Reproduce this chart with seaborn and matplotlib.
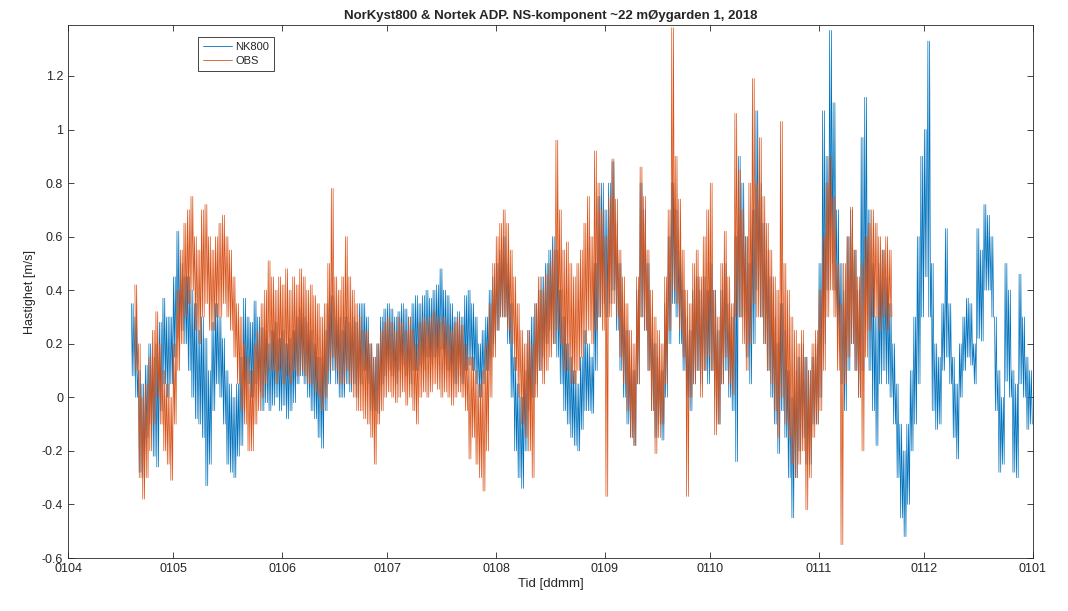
import matplotlib
matplotlib.use("Agg")
import matplotlib.pyplot as plt
import matplotlib.dates as mdates
import matplotlib.ticker as mticker
from matplotlib.lines import Line2D
import seaborn as sns
import pandas as pd

# daily high / low of the tidal signal (m/s)
# day 0 = 1 April 2018
nk_start = 18
nk_hi = [
    0.35, 0.30, 0.10, 0.05, 0.12, 0.20, 0.15, 0.20, 0.28, 0.37,
    0.30, 0.30, 0.45, 0.62, 0.50, 0.45, 0.45, 0.40, 0.35, 0.25,
    0.30, 0.22, 0.10, 0.28, 0.35, 0.30, 0.22, 0.10, 0.05, 0.00,
    0.05, 0.15, 0.37, 0.30, 0.28, 0.36, 0.30, 0.26, 0.25, 0.20,
    0.25, 0.28, 0.22, 0.25, 0.20, 0.22, 0.25, 0.30, 0.33, 0.30,
    0.28, 0.25, 0.20, 0.15, 0.15, 0.25, 0.35, 0.38, 0.30, 0.30,
    0.25, 0.30, 0.28, 0.30, 0.28, 0.35, 0.35, 0.30, 0.20, 0.15,
    0.20, 0.30, 0.33, 0.35, 0.33, 0.30, 0.32, 0.35, 0.33, 0.30,
    0.35, 0.38, 0.35, 0.38, 0.40, 0.37, 0.40, 0.42, 0.48, 0.40,
    0.38, 0.35, 0.30, 0.32, 0.30, 0.38, 0.40, 0.35, 0.30, 0.20,
    0.25, 0.30, 0.40, 0.45, 0.50, 0.55, 0.60, 0.50, 0.35, 0.15,
    0.05, 0.00, 0.10, 0.25, 0.30, 0.35, 0.40, 0.45, 0.50, 0.55,
    0.60, 0.55, 0.40, 0.30, 0.20, 0.15, 0.10, 0.05, 0.15, 0.25,
    0.20, 0.15, 0.50, 0.75, 0.80, 0.70, 0.80, 0.88, 0.65, 0.50,
    0.35, 0.25, 0.15, 0.10, 0.40, 0.80, 0.70, 0.50, 0.30, 0.20,
    0.15, 0.10, 0.35, 0.60, 0.80, 0.70, 0.55, 0.40, 0.30, 0.25,
    0.40, 0.45, 0.40, 0.45, 0.40, 0.50, 0.40, 0.25, 0.40, 0.50,
    0.35, 0.30, 0.60, 0.90, 0.80, 0.60, 0.50, 0.70, 1.07, 0.80,
    0.65, 0.55, 0.45, 0.30, 0.20, 0.35, 0.25, 0.10, 0.00, 0.10,
    0.15, 0.20, 0.15, 0.10, 0.15, 0.20, 0.50, 1.07, 0.90, 1.37,
    1.10, 0.70, 0.50, 0.40, 0.60, 0.70, 0.55, 0.40, 0.97, 1.12,
    0.70, 0.50, 0.30, 0.50, 0.55, 0.45, 0.35, 0.20, 0.05, -0.10,
    -0.20, -0.10, 0.10, 0.30, 0.60, 0.90, 1.00, 1.33, 0.50, 0.20,
    0.15, 0.35, 0.63, 0.35, 0.15, 0.05, 0.20, 0.30, 0.37, 0.35,
    0.20, 0.63, 0.55, 0.72, 0.68, 0.60, 0.30, 0.10, 0.00, 0.50,
    0.40, 0.10, 0.05, 0.46, 0.30, 0.15, 0.10,
]
nk_lo = [
    0.08, 0.00, -0.28, -0.30, -0.15, -0.10, -0.22, -0.26, -0.05, 0.05,
    0.00, 0.05, 0.15, 0.22, 0.25, 0.20, 0.10, 0.00, -0.08, -0.10,
    -0.15, -0.33, -0.25, -0.05, 0.05, 0.00, -0.10, -0.25, -0.28, -0.30,
    -0.22, -0.18, 0.00, 0.05, 0.00, 0.05, 0.02, -0.05, -0.02, -0.05,
    -0.03, 0.00, -0.05, -0.03, -0.08, -0.05, -0.02, 0.05, 0.08, 0.05,
    0.00, -0.05, -0.08, -0.15, -0.19, -0.05, 0.05, 0.10, 0.05, 0.00,
    0.00, 0.05, 0.02, 0.05, 0.00, 0.05, 0.10, 0.05, -0.05, -0.05,
    -0.06, 0.05, 0.08, 0.10, 0.08, 0.05, 0.10, 0.12, 0.08, 0.05,
    0.10, 0.10, 0.12, 0.10, 0.15, 0.12, 0.15, 0.15, 0.18, 0.12,
    0.10, 0.08, 0.05, 0.08, 0.05, 0.10, 0.12, 0.10, 0.05, 0.00,
    0.05, 0.10, 0.15, 0.20, 0.25, 0.30, 0.30, 0.20, 0.00, -0.20,
    -0.30, -0.34, -0.20, -0.05, 0.00, 0.05, 0.10, 0.15, 0.20, 0.25,
    0.20, 0.15, 0.05, -0.05, -0.10, -0.15, -0.18, -0.20, -0.12, -0.05,
    -0.05, -0.06, 0.10, 0.30, 0.35, 0.30, 0.35, 0.40, 0.25, 0.10,
    0.00, -0.10, -0.15, -0.18, 0.05, 0.30, 0.25, 0.10, -0.05, -0.15,
    -0.10, -0.16, 0.00, 0.20, 0.35, 0.30, 0.20, 0.10, 0.00, -0.05,
    0.05, 0.10, 0.05, 0.10, 0.05, 0.10, 0.00, -0.10, 0.05, 0.10,
    0.00, -0.05, -0.24, 0.30, 0.30, 0.15, 0.05, 0.20, 0.40, 0.30,
    0.20, 0.10, 0.00, -0.10, -0.21, -0.05, -0.15, -0.30, -0.45, -0.30,
    -0.20, -0.15, -0.25, -0.25, -0.10, -0.10, 0.00, 0.20, 0.40, 0.50,
    0.40, 0.20, 0.05, -0.05, 0.10, 0.20, 0.10, 0.00, 0.10, 0.30,
    0.10, -0.05, -0.18, 0.05, 0.10, 0.05, 0.00, -0.10, -0.30, -0.45,
    -0.52, -0.40, -0.20, -0.10, 0.05, 0.30, 0.45, 0.30, -0.05, -0.12,
    -0.10, 0.10, 0.15, 0.05, -0.15, -0.23, 0.00, 0.10, 0.15, 0.12,
    0.05, 0.22, 0.21, 0.40, 0.40, 0.30, -0.05, -0.28, -0.25, 0.06,
    0.00, -0.28, -0.30, 0.05, 0.00, -0.12, -0.10,
]

obs_start = 19
obs_hi = [
    0.42, 0.20, 0.00, 0.05, 0.15, 0.25, 0.32, 0.20, 0.10, 0.05,
    0.00, 0.20, 0.40, 0.55, 0.65, 0.70, 0.75, 0.60, 0.55, 0.70,
    0.72, 0.60, 0.55, 0.60, 0.65, 0.68, 0.60, 0.55, 0.45, 0.35,
    0.30, 0.20, 0.15, 0.10, 0.20, 0.25, 0.35, 0.40, 0.51, 0.45,
    0.40, 0.45, 0.42, 0.48, 0.40, 0.45, 0.42, 0.48, 0.45, 0.40,
    0.42, 0.38, 0.35, 0.30, 0.35, 0.50, 0.78, 0.45, 0.40, 0.45,
    0.60, 0.45, 0.40, 0.35, 0.30, 0.25, 0.25, 0.20, 0.15, 0.20,
    0.25, 0.28, 0.30, 0.28, 0.25, 0.30, 0.28, 0.25, 0.30, 0.25,
    0.20, 0.28, 0.30, 0.28, 0.30, 0.32, 0.30, 0.28, 0.30, 0.27,
    0.25, 0.28, 0.30, 0.27, 0.20, 0.15, 0.15, 0.10, 0.05, 0.10,
    0.20, 0.35, 0.50, 0.60, 0.65, 0.70, 0.65, 0.55, 0.45, 0.35,
    0.25, 0.20, 0.25, 0.20, 0.35, 0.45, 0.40, 0.46, 0.50, 0.55,
    0.96, 0.70, 0.55, 0.58, 0.50, 0.45, 0.50, 0.55, 0.65, 0.75,
    0.60, 0.92, 0.80, 0.70, 0.60, 0.75, 0.89, 0.74, 0.55, 0.45,
    0.35, 0.25, 0.20, 0.45, 0.86, 0.75, 0.55, 0.40, 0.30, 0.25,
    0.20, 0.45, 0.70, 1.38, 0.90, 0.74, 0.55, 0.40, 0.35, 0.50,
    0.55, 0.45, 0.60, 0.70, 0.80, 0.40, 0.30, 0.50, 0.62, 0.45,
    0.35, 1.06, 0.85, 0.70, 0.60, 0.80, 1.19, 0.80, 0.97, 0.75,
    0.65, 0.55, 0.45, 0.40, 1.03, 0.50, 0.40, 0.30, 0.25, 0.20,
    0.25, 0.15, 0.10, 0.20, 0.25, 0.40, 0.60, 0.80, 0.90, 0.75,
    0.50, 0.35, 0.50, 0.60, 0.71, 0.55, 0.45, 0.50, 0.60, 0.65,
    0.70, 0.65, 0.60, 0.55, 0.60, 0.55,
]
obs_lo = [
    0.10, -0.30, -0.38, -0.30, -0.20, -0.10, 0.00, -0.10, -0.20, -0.25,
    -0.31, -0.10, 0.10, 0.20, 0.30, 0.35, 0.40, 0.25, 0.20, 0.30,
    0.35, 0.25, 0.25, 0.30, 0.30, 0.35, 0.30, 0.25, 0.15, 0.05,
    -0.05, -0.10, -0.20, -0.20, -0.10, -0.05, 0.00, 0.05, 0.10, 0.10,
    0.05, 0.10, 0.05, 0.08, 0.05, 0.10, 0.08, 0.10, 0.08, 0.05,
    0.05, 0.02, 0.00, -0.05, 0.00, 0.10, 0.15, 0.10, 0.05, 0.05,
    0.10, 0.05, 0.00, -0.05, -0.05, -0.08, -0.10, -0.15, -0.25, -0.10,
    -0.05, 0.00, 0.02, 0.00, -0.02, 0.00, 0.02, -0.03, 0.00, -0.05,
    -0.10, 0.00, 0.02, 0.00, 0.02, 0.05, 0.03, 0.00, 0.02, 0.00,
    -0.03, 0.00, 0.02, 0.00, -0.05, -0.23, -0.15, -0.25, -0.30, -0.35,
    -0.20, 0.00, 0.15, 0.25, 0.30, 0.30, 0.25, 0.20, 0.10, 0.00,
    -0.10, -0.15, -0.20, -0.30, 0.00, 0.10, 0.05, 0.10, 0.15, 0.20,
    0.25, 0.20, 0.10, 0.10, 0.05, 0.05, 0.10, 0.15, 0.20, 0.25,
    0.20, 0.25, 0.30, 0.25, -0.37, 0.30, 0.35, 0.30, 0.15, 0.05,
    -0.05, -0.15, -0.18, 0.05, 0.30, 0.25, 0.10, -0.05, -0.21, -0.15,
    -0.10, 0.05, 0.25, 0.40, 0.35, 0.25, 0.15, -0.37, 0.00, 0.05,
    0.10, 0.00, 0.10, 0.15, 0.10, -0.14, -0.10, 0.05, 0.15, 0.05,
    0.01, 0.30, 0.30, 0.20, 0.10, 0.20, 0.35, 0.30, 0.30, 0.20,
    0.10, 0.05, -0.05, -0.15, 0.00, -0.10, -0.15, -0.25, -0.30, -0.25,
    -0.20, -0.42, -0.30, -0.15, -0.10, -0.05, 0.10, 0.30, 0.40, 0.30,
    0.10, -0.55, 0.05, 0.15, 0.20, 0.10, 0.00, -0.20, 0.15, 0.25,
    0.30, 0.30, 0.25, 0.30, 0.25, 0.30,
]

t0 = pd.Timestamp("2018-04-01")
colors = {"NK800": "#0072BD", "OBS": "#D95319"}


def tidal_trace(start, hi, lo, name):
    # two tides a day: the day's high and low are reached twice
    rows = []
    for i, (h, l) in enumerate(zip(hi, lo)):
        d = start + i
        rows += [(d + 0.05, h, name), (d + 0.30, l, name),
                 (d + 0.55, h, name), (d + 0.80, l, name)]
    out = pd.DataFrame(rows, columns=["day", "value", "series"])
    out["time"] = t0 + pd.to_timedelta(out["day"], unit="D")
    return out


df = pd.concat([tidal_trace(nk_start, nk_hi, nk_lo, "NK800"),
                tidal_trace(obs_start, obs_hi, obs_lo, "OBS")], ignore_index=True)

sns.set_style("ticks")
plt.rcParams["font.family"] = ["Liberation Sans", "DejaVu Sans"]

fig = plt.figure(figsize=(10.68, 6.11), dpi=100)
ax = fig.add_axes([0.0637, 0.0867, 0.9035, 0.8723])

sns.lineplot(data=df, x="time", y="value", hue="series", palette=colors,
             estimator=None, sort=False, linewidth=0.5, legend=False, ax=ax)

ax.set_xlim(t0, pd.Timestamp("2019-01-01"))
ax.set_ylim(-0.6, 1.39)
ax.xaxis.set_major_locator(mdates.MonthLocator())
ax.xaxis.set_major_formatter(mdates.DateFormatter("%d%m"))
ax.set_yticks([-0.6, -0.4, -0.2, 0, 0.2, 0.4, 0.6, 0.8, 1.0, 1.2])
ax.yaxis.set_major_formatter(mticker.FuncFormatter(lambda v, _: f"{round(v, 1):g}"))

ax.tick_params(direction="in", top=True, right=True, length=4, width=0.6,
               labelsize=9, colors="#262626")
for s in ax.spines.values():
    s.set_visible(True)
    s.set_color("#262626")
    s.set_linewidth(0.6)

ax.set_title("NorKyst800 & Nortek ADP. NS-komponent ~22 mØygarden 1, 2018",
             fontsize=9.5, fontweight="bold", pad=4)
ax.set_xlabel("Tid [ddmm]", fontsize=9.5, color="#262626", labelpad=2)
ax.set_ylabel("Hastighet [m/s]", fontsize=9, color="#262626", labelpad=4)

handles = [Line2D([], [], color=colors[k], lw=0.6) for k in colors]
leg = ax.legend(handles, list(colors), loc="upper left",
                bbox_to_anchor=(0.129, 0.988), frameon=True, fancybox=False,
                edgecolor="#262626", framealpha=1, fontsize=8,
                handlelength=2.6, handletextpad=0.3, borderpad=0.45,
                labelspacing=0.35)
leg.get_frame().set_linewidth(0.6)

fig.savefig("out.png", dpi=100)
